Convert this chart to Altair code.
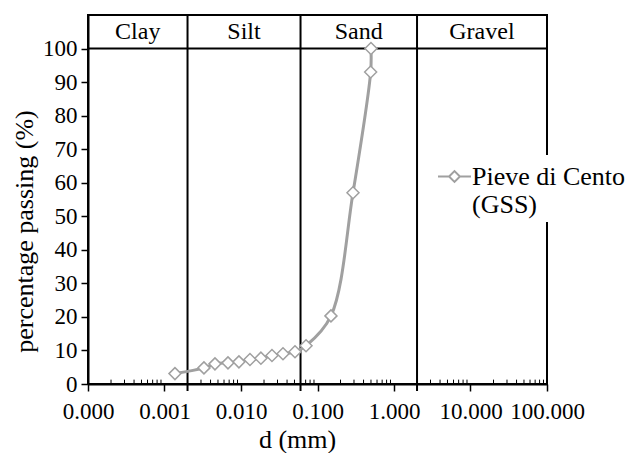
import altair as alt
import pandas as pd

# ---- data ----
d_mm = [0.00137, 0.00328, 0.00457, 0.00676, 0.0094, 0.0131, 0.0182, 0.0254,
        0.0354, 0.0508, 0.0708, 0.150, 0.291, 0.495, 0.5]
passing = [3.1, 4.8, 6.0, 6.3, 6.6, 7.3, 7.7, 8.5, 9.0, 9.6, 11.4, 20.3,
           57.0, 93.0, 100.0]
series_name = "Pieve di Cento (GSS)"

zone_names = ["Clay", "Silt", "Sand", "Gravel"]
zone_centers = [0.000447, 0.01095, 0.346, 14.1]
boundaries = [0.002, 0.06, 2.0]

x_ticks = [0.0001, 0.001, 0.01, 0.1, 1, 10, 100]
minor_mult = [2, 3, 4, 5, 6, 7, 8, 9]
y_ticks = [0, 10, 20, 30, 40, 50, 60, 70, 80, 90, 100]

x_min, x_max = 0.0001, 100
y_max = 110
header_line = 100
header_text_y = 105

FONT = "'Liberation Serif', 'Times New Roman', Times, serif"
GRAY = "#a0a0a0"

data = pd.DataFrame({"d": d_mm, "p": passing, "series": [series_name] * len(d_mm)})
zones = pd.DataFrame({"d": zone_centers, "name": zone_names,
                      "p": [header_text_y] * len(zone_names)})
bounds = pd.DataFrame({"d": boundaries, "p": [y_max] * 3, "p2": [-2.1] * 3})
minor_vals = [m * t for t in x_ticks[:-1] for m in minor_mult]
minor = pd.DataFrame({"d": minor_vals, "p": [0.0] * len(minor_vals),
                      "p2": [1.3] * len(minor_vals)})
header = pd.DataFrame({"d": [x_min], "d2": [x_max], "p": [header_line]})

xscale = alt.Scale(type="log", domain=[x_min, x_max], nice=False)
yscale = alt.Scale(domain=[0, y_max], nice=False)

x_axis = alt.Axis(values=x_ticks, format=".3f", title="d (mm)", grid=False,
                  labelOverlap=False, labelFlush=False,
                  titleX=209, titleY=63, titleBaseline="alphabetic")
y_axis = alt.Axis(values=y_ticks, title="percentage passing (%)", grid=False,
                  titleX=-56, titleY=216, titleBaseline="alphabetic")

X = alt.X("d:Q", scale=xscale, axis=x_axis)
Y = alt.Y("p:Q", scale=yscale, axis=y_axis)

line = alt.Chart(data).mark_line(
    interpolate="catmull-rom", strokeWidth=3
).encode(
    x=X, y=Y,
    color=alt.Color(
        "series:N",
        scale=alt.Scale(range=[GRAY]),
        legend=alt.Legend(
            title=None, orient="none", legendX=345, legendY=140,
            fillColor="white", padding=4,
            labelFont=FONT, labelFontSize=26, labelColor="black",
            labelLimit=400,
            labelExpr="['Pieve di Cento', '(GSS)']",
            labelOffset=0,
            symbolType="M-1,0L-0.33,0M0.33,0L1,0"
                       "M-0.33,0L0,-0.33L0.33,0L0,0.33Z",
            symbolSize=1089, symbolStrokeColor=GRAY, symbolFillColor="white",
            symbolStrokeWidth=2,
        ),
    ),
)

points = alt.Chart(data).mark_point(
    shape="diamond", filled=True, fill="white", stroke=GRAY,
    strokeWidth=1.5, size=144, opacity=1
).encode(x=X, y=Y)

vrules = alt.Chart(bounds).mark_rule(color="black", strokeWidth=2).encode(
    x=X, y=Y, y2="p2:Q",
)

minor_ticks = alt.Chart(minor).mark_rule(color="black", strokeWidth=1).encode(
    x=X, y=Y, y2="p2:Q",
)

hrule = alt.Chart(header).mark_rule(color="black", strokeWidth=2).encode(
    x=X, x2="d2:Q", y=Y,
)

labels = alt.Chart(zones).mark_text(
    font=FONT, fontSize=24, color="black", baseline="middle", align="center"
).encode(
    x=X, y=Y, text="name:N",
)

chart = alt.layer(minor_ticks, vrules, hrule, labels, line, points).properties(
    width=459, height=369,
    autosize=alt.AutoSizeParams(type="none"),
    padding={"left": 88, "top": 15, "right": 83, "bottom": 69},
).configure(
    font=FONT
).configure_view(
    stroke="black", strokeWidth=2
).configure_text(
    font=FONT
).configure_axis(
    domainColor="black", domainWidth=2, tickColor="black", tickWidth=1.5,
    tickSize=7, labelFont=FONT, labelFontSize=23, labelColor="black",
    titleFont=FONT, titleFontSize=26, titleFontWeight="normal",
    titleColor="black",
).configure_axisX(
    labelPadding=9
).configure_axisY(
    labelPadding=4
)

chart.save("out.html", embed_options={"renderer": "svg", "actions": False})
